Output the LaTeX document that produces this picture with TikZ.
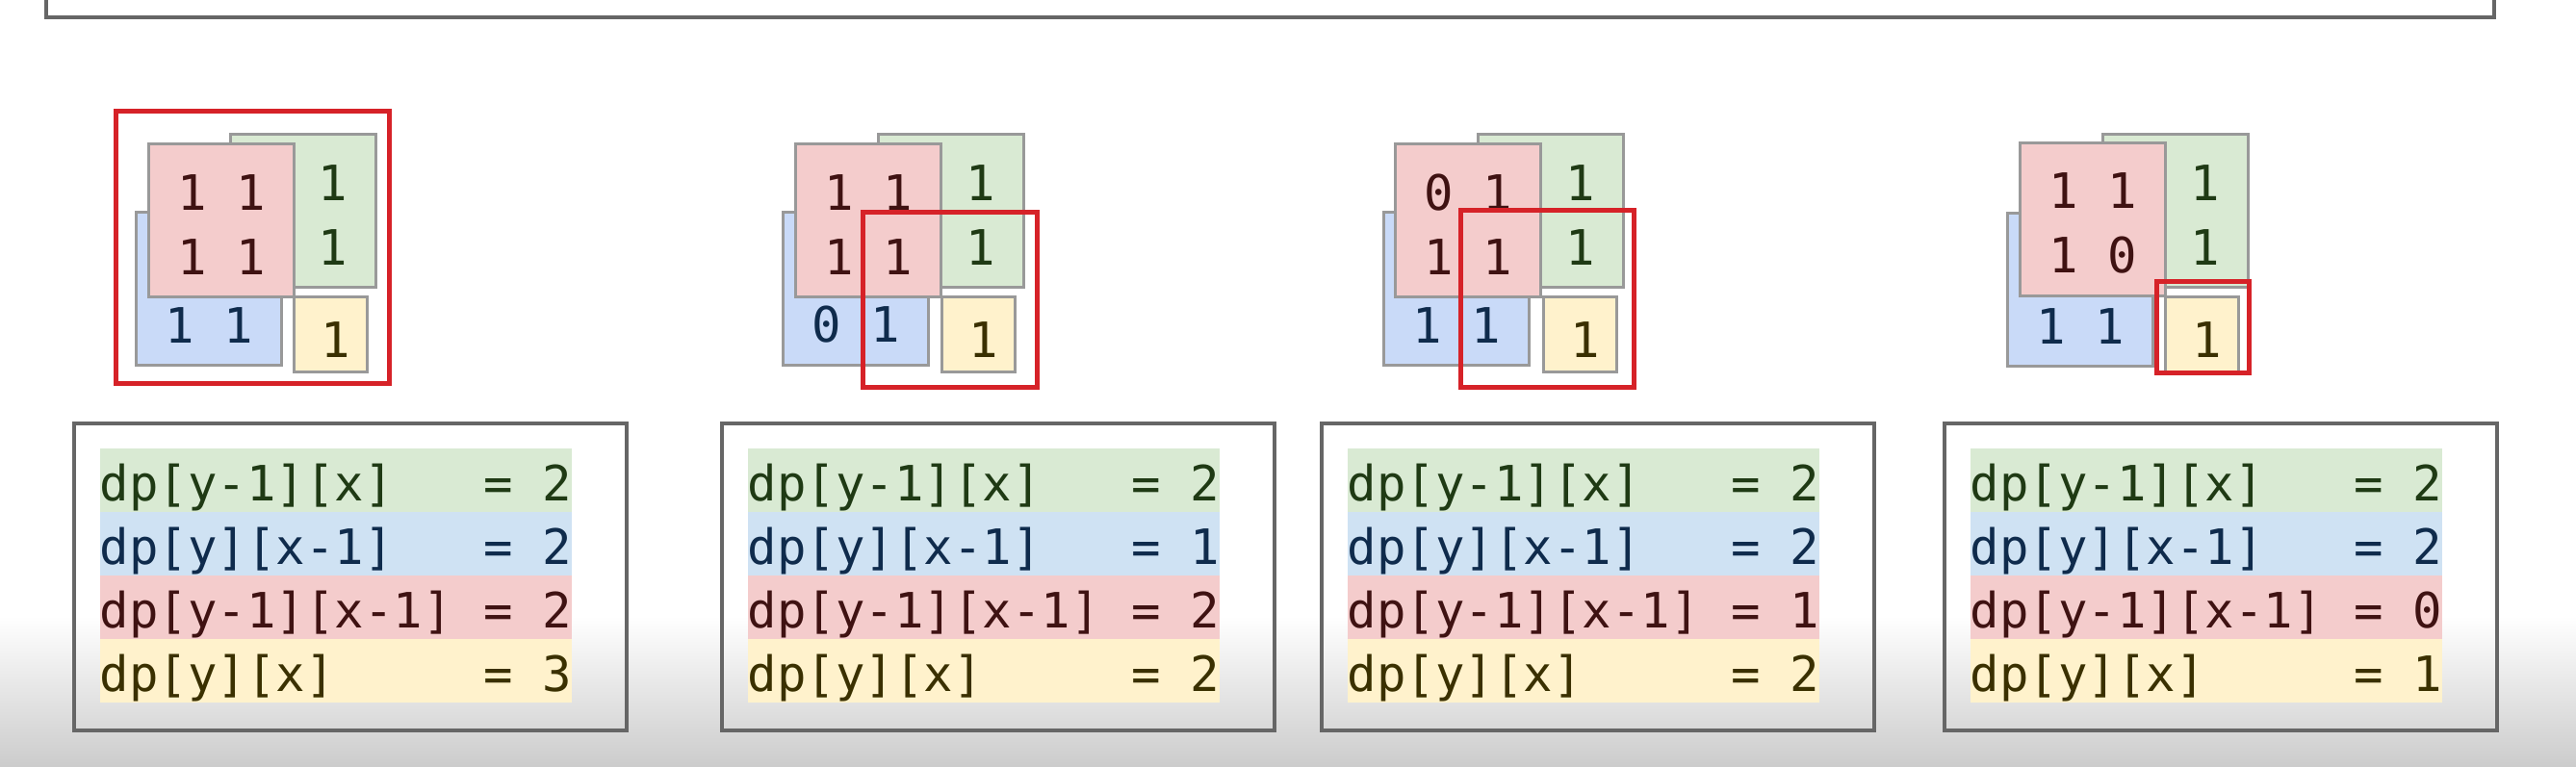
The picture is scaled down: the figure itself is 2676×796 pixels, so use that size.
\documentclass[tikz,border=0pt]{standalone}
\usepackage{fontspec}
\usepackage{tikz}
\usetikzlibrary{positioning}
\newfontfamily\codefont{DejaVu Sans Mono}
\definecolor{cellpink}{HTML}{F4CCCC}
\definecolor{cellgreen}{HTML}{D9EAD3}
\definecolor{cellblue}{HTML}{C9DAF8}
\definecolor{cellyellow}{HTML}{FFF2CC}
\definecolor{bandblue}{HTML}{CFE2F3}
\definecolor{txtpink}{HTML}{3F1212}
\definecolor{txtgreen}{HTML}{1F3A14}
\definecolor{txtblue}{HTML}{0F2B4C}
\definecolor{txtyellow}{HTML}{3A3000}
\definecolor{framered}{RGB}{214,34,40}

\begin{document}
\begin{tikzpicture}[x=0.01cm, y=-0.01cm,
		cell/.style={draw=black!40, line width=0.3mm, anchor=north west, inner sep=0pt,
			minimum width=1.51cm, minimum height=1.59cm, align=center, text height=11.2mm,
			font=\codefont\fontsize{14.4pt}{19pt}\selectfont},
		pinkcell/.style={cell, fill=cellpink, text=txtpink},
		greencell/.style={cell, fill=cellgreen, text=txtgreen},
		bluecell/.style={cell, fill=cellblue, text=txtblue},
		yellowcell/.style={draw=black!40, line width=0.3mm, anchor=north west, inner sep=0pt,
			minimum width=0.76cm, minimum height=0.78cm, text height=4.7mm,
			fill=cellyellow, text=txtyellow, font=\codefont\fontsize{14.4pt}{19pt}\selectfont},
		redframe/.style={draw=framered, line width=0.5mm},
		codebox/.style={draw=black!60, line width=0.4mm, anchor=north west,
			minimum width=5.74cm, minimum height=3.19cm},
		codeline/.style={inner sep=0pt, text height=5.5mm, text depth=1.1mm,
			font=\codefont\fontsize{14.4pt}{18pt}\selectfont},
		]
		\useasboundingbox (0,0) rectangle (2676,796);
		
		% fond
		\shade[top color=white, bottom color=black!20] (0,640) rectangle (2676,796);
		\draw[black!60, line width=0.45mm] (48,-20) rectangle (2591,18);
		
		% grille 1
		\node[greencell] (greenA) at (238,138) {\phantom{1} 1\\\phantom{1} 1};
		\node[bluecell] (blueA) at (140,219) {\phantom{1 1}\\1 1};
		\node[pinkcell] (pinkA) at (153,148) {1 1\\1 1};
		\node[yellowcell] (yellowA) at (304,307) {\hspace{1mm}1};
		\draw[redframe] (120,115) rectangle (404,398);
		
		% grille 2
		\node[greencell] (greenB) at (911,138) {\phantom{1} 1\\\phantom{1} 1};
		\node[bluecell] (blueB) at (812,219) {\phantom{1 1}\\0 1};
		\node[pinkcell] (pinkB) at (825,148) {1 1\\1 1};
		\node[yellowcell] (yellowB) at (977,307) {\hspace{1mm}1};
		\draw[redframe] (896,220) rectangle (1077,402);
		
		% grille 3
		\node[greencell] (greenC) at (1534,138) {\phantom{1} 1\\\phantom{1} 1};
		\node[bluecell] (blueC) at (1436,219) {\phantom{1 1}\\1 1};
		\node[pinkcell] (pinkC) at (1448,148) {0 1\\1 1};
		\node[yellowcell] (yellowC) at (1602,307) {\hspace{1mm}1};
		\draw[redframe] (1517,218) rectangle (1697,402);
		
		% grille 4
		\node[greencell] (greenD) at (2183,138) {\phantom{1} 1\\\phantom{1} 1};
		\node[bluecell] (blueD) at (2084,220) {\phantom{1 1}\\1 1};
		\node[pinkcell] (pinkD) at (2097,147) {1 1\\1 0};
		\node[yellowcell] (yellowD) at (2248,307) {\hspace{1mm}1};
		\draw[redframe] (2240,292) rectangle (2336,387);
		
		% les valeurs
		\node[codebox] (codeA) at (75,438) {};
		\node[codeline, fill=cellgreen, text=txtgreen, anchor=north west] (lineA1) at ([shift={(28,27)}]codeA.north west) {\hbox to 49mm{dp[y-1][x]\hfill= 2}};
		\node[codeline, fill=bandblue, text=txtblue, below=-0.4pt of lineA1] (lineA2) {\hbox to 49mm{dp[y][x-1]\hfill= 2}};
		\node[codeline, fill=cellpink, text=txtpink, below=-0.4pt of lineA2] (lineA3) {\hbox to 49mm{dp[y-1][x-1]\hfill= 2}};
		\node[codeline, fill=cellyellow, text=txtyellow, below=-0.4pt of lineA3] (lineA4) {\hbox to 49mm{dp[y][x]\hfill= 3}};
		
		\node[codebox] (codeB) at (748,438) {};
		\node[codeline, fill=cellgreen, text=txtgreen, anchor=north west] (lineB1) at ([shift={(28,27)}]codeB.north west) {\hbox to 49mm{dp[y-1][x]\hfill= 2}};
		\node[codeline, fill=bandblue, text=txtblue, below=-0.4pt of lineB1] (lineB2) {\hbox to 49mm{dp[y][x-1]\hfill= 1}};
		\node[codeline, fill=cellpink, text=txtpink, below=-0.4pt of lineB2] (lineB3) {\hbox to 49mm{dp[y-1][x-1]\hfill= 2}};
		\node[codeline, fill=cellyellow, text=txtyellow, below=-0.4pt of lineB3] (lineB4) {\hbox to 49mm{dp[y][x]\hfill= 2}};
		
		\node[codebox] (codeC) at (1371,438) {};
		\node[codeline, fill=cellgreen, text=txtgreen, anchor=north west] (lineC1) at ([shift={(28,27)}]codeC.north west) {\hbox to 49mm{dp[y-1][x]\hfill= 2}};
		\node[codeline, fill=bandblue, text=txtblue, below=-0.4pt of lineC1] (lineC2) {\hbox to 49mm{dp[y][x-1]\hfill= 2}};
		\node[codeline, fill=cellpink, text=txtpink, below=-0.4pt of lineC2] (lineC3) {\hbox to 49mm{dp[y-1][x-1]\hfill= 1}};
		\node[codeline, fill=cellyellow, text=txtyellow, below=-0.4pt of lineC3] (lineC4) {\hbox to 49mm{dp[y][x]\hfill= 2}};
		
		\node[codebox] (codeD) at (2018,438) {};
		\node[codeline, fill=cellgreen, text=txtgreen, anchor=north west] (lineD1) at ([shift={(28,27)}]codeD.north west) {\hbox to 49mm{dp[y-1][x]\hfill= 2}};
		\node[codeline, fill=bandblue, text=txtblue, below=-0.4pt of lineD1] (lineD2) {\hbox to 49mm{dp[y][x-1]\hfill= 2}};
		\node[codeline, fill=cellpink, text=txtpink, below=-0.4pt of lineD2] (lineD3) {\hbox to 49mm{dp[y-1][x-1]\hfill= 0}};
		\node[codeline, fill=cellyellow, text=txtyellow, below=-0.4pt of lineD3] (lineD4) {\hbox to 49mm{dp[y][x]\hfill= 1}};
	\end{tikzpicture}
\end{document}
